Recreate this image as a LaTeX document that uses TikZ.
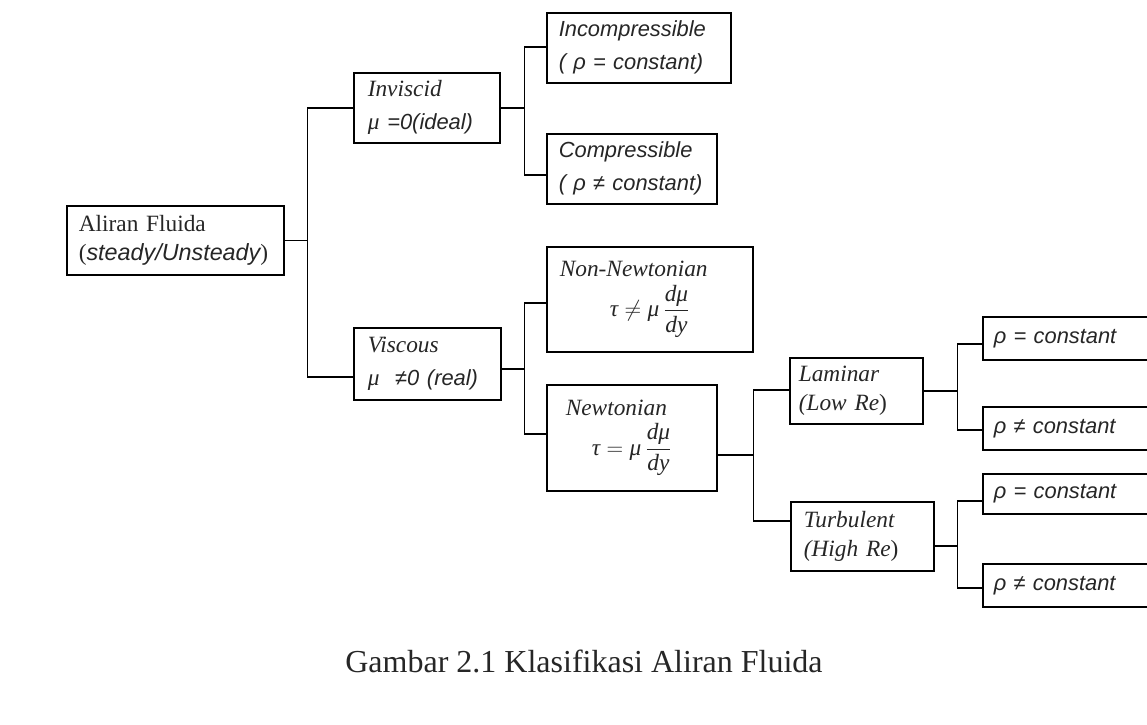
\documentclass[tikz,border=0pt]{standalone}
\usepackage{amsmath}
\usepackage{fontspec}
\setmainfont{Liberation Serif}
\setsansfont{Liberation Sans}
\usetikzlibrary{calc}
\newcommand\sfit{\sffamily\itshape}
\newcommand\serfont{\fontsize{17.5}{21.75}\selectfont}
\newcommand\serwide{\fontsize{17.5}{24.75}\selectfont}
\newcommand\sanfont{\fontsize{16.4}{24.75}\selectfont\sffamily\itshape}
\newcommand\ii[1]{\mbox{\itshape #1}}
\begin{document}
\begin{tikzpicture}[x=0.75pt,y=-0.75pt,
  box/.style={draw, line width=1.2pt, anchor=north west, align=left, inner ysep=0pt, text=black!85},
  conn/.style={line width=1.2pt},
  bw/.style n args={4}{minimum width=#1, minimum height=#2, inner xsep=#3, text width=#4}]
\useasboundingbox (0,0) rectangle (1147,725);
\fill[white] (0,0) rectangle (1147,725);
\clip (0,0) rectangle (1147,725);

\node[box, font=\serfont, bw={162.75pt}{51.75pt}{9pt}{144.75pt}] (aliran) at (66,205)
  {Aliran Fluida\\({\sfit steady/Unsteady})};
\node[box, font=\serwide, bw={109.5pt}{52.5pt}{10.5pt}{88.5pt}] (inviscid) at (353,72)
  {\itshape Inviscid\\{\itshape μ} {\sfit\fontsize{16.4}{24.75}\selectfont =0(ideal)}};
\node[box, font=\sanfont, bw={138pt}{52.5pt}{9pt}{120pt}] (incomp) at (546,12)
  {Incompressible\\( ρ = constant)};
\node[box, font=\sanfont, bw={127.5pt}{52.5pt}{9pt}{109.5pt}] (comp) at (546,133)
  {Compressible\\( ρ ≠ constant)};
\node[box, font=\serwide, bw={110.25pt}{54pt}{10.5pt}{89.25pt}] (viscous) at (353,327)
  {\itshape Viscous\\{\itshape μ}\ \ {\sfit\fontsize{16.4}{24.75}\selectfont ≠0 (real)}};
\node[box, font=\serfont, bw={154.5pt}{78.75pt}{9.75pt}{135pt}] (nonnewt) at (546,246)
  {\itshape Non-Newtonian\\[5pt]
   \hspace*{\fill}$\ii{τ}\neq\ii{μ}\,\dfrac{\ii{dμ}}{\ii{dy}}$\hspace*{\fill}};
\node[box, font=\serfont, bw={127.5pt}{79.5pt}{14.25pt}{99pt}] (newt) at (546,384)
  {\itshape Newtonian\\[5pt]
   \hspace*{\fill}$\ii{τ}=\ii{μ}\,\dfrac{\ii{dμ}}{\ii{dy}}$\hspace*{\fill}};
\node[box, font=\serfont, bw={99.75pt}{49.5pt}{6.75pt}{86.25pt}] (laminar) at (789,357)
  {\itshape Laminar\\(\itshape Low Re\upshape)};
\node[box, font=\serfont, bw={107.25pt}{51.75pt}{9.75pt}{87.75pt}] (turbulent) at (790,501)
  {\itshape Turbulent\\(\itshape High Re\upshape)};
\node[box, font=\sanfont, bw={150pt}{32.25pt}{8.25pt}{133.5pt}] (r1) at (982,316) {ρ = constant};
\node[box, font=\sanfont, bw={150pt}{32.25pt}{8.25pt}{133.5pt}] (r2) at (982,406) {ρ ≠ constant};
\node[box, font=\sanfont, bw={150pt}{30pt}{8.25pt}{133.5pt}] (r3) at (982,473) {ρ = constant};
\node[box, font=\sanfont, bw={150pt}{32.25pt}{8.25pt}{133.5pt}] (r4) at (982,563) {ρ ≠ constant};

\node[font=\fontsize{24}{28}\selectfont, anchor=base, text=black!85] (caption) at (584,672)
  {Gambar 2.1 Klasifikasi Aliran Fluida};

\draw[conn] (aliran.east) -- ++(23,0) coordinate (j1);
\draw[conn] (inviscid.west) -| (j1) |- ($(viscous.west)+(0,13)$);
\draw[conn] (inviscid.east) -- ++(24,0) coordinate (j2);
\draw[conn] ($(incomp.west)+(0,-1)$) -| (j2) |- ($(comp.west)+(0,6)$);
\draw[conn] ($(viscous.east)+(0,5)$) -- ++(23,0) coordinate (j3);
\draw[conn] ($(nonnewt.west)+(0,3.5)$) -| (j3) |- ($(newt.west)+(0,-4)$);
\draw[conn] ($(newt.east)+(0,17)$) -- ++(36,0) coordinate (j4);
\draw[conn] ($(laminar.west)+(0,-1)$) -| (j4) |- ($(turbulent.west)+(0,-15.5)$);
\draw[conn] (laminar.east) -- ++(34,0) coordinate (j5);
\draw[conn] ($(r1.west)+(0,5.5)$) -| (j5) |- ($(r2.west)+(0,1.5)$);
\draw[conn] ($(turbulent.east)+(0,9.5)$) -- ++(23,0) coordinate (j6);
\draw[conn] ($(r3.west)+(0,7)$) -| (j6) |- ($(r4.west)+(0,2.5)$);
\end{tikzpicture}
\end{document}
